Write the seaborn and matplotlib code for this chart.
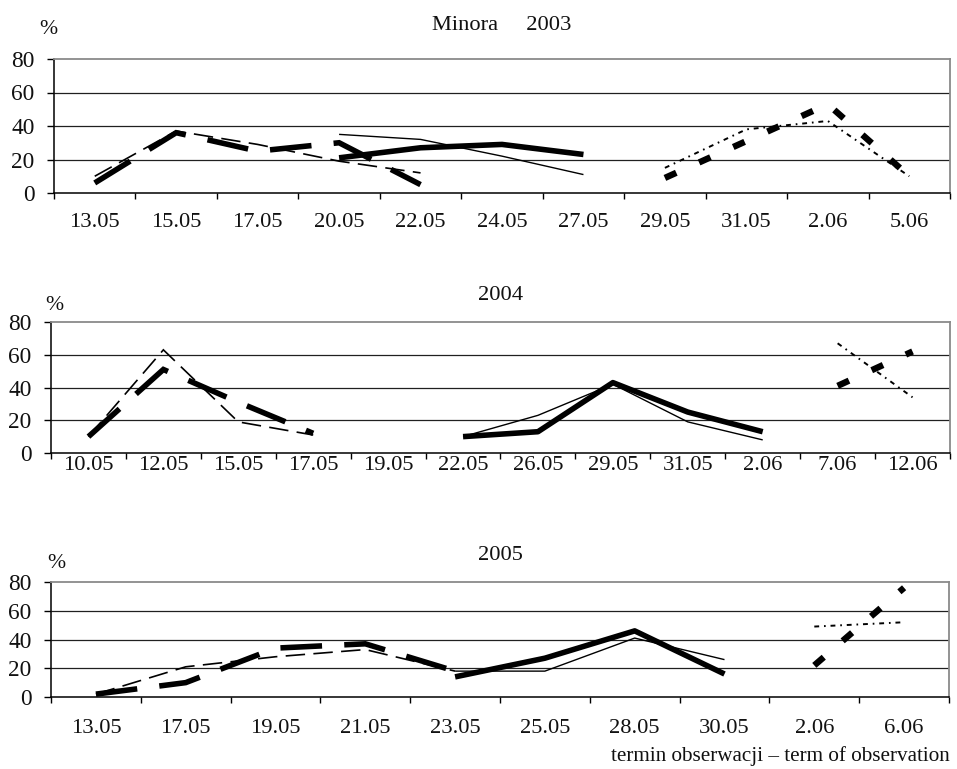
import numpy as np
import pandas as pd
import matplotlib
matplotlib.use("Agg")
import matplotlib.pyplot as plt
import seaborn as sns
from matplotlib.ticker import FixedLocator, NullFormatter, FixedFormatter

sns.set_theme(style="white")
plt.rcParams["font.family"] = ["Liberation Serif", "DejaVu Serif"]
plt.rcParams["lines.scale_dashes"] = False
plt.rcParams["lines.solid_capstyle"] = "butt"
plt.rcParams["lines.dash_capstyle"] = "butt"
plt.rcParams["lines.solid_joinstyle"] = "round"
plt.rcParams["lines.dash_joinstyle"] = "miter"

nan = np.nan

# ---- 2003 -------------------------------------------------------------
dates_2003 = ["13.05", "15.05", "17.05", "20.05", "22.05", "24.05",
              "27.05", "29.05", "31.05", "2.06", "5.06"]
heavy_dash_2003 = [6, 36, 25, 30, 5, nan, nan, nan, nan, nan, nan]
light_dash_2003 = [10, 37, 29, 19, 12, nan, nan, nan, nan, nan, nan]
heavy_solid_2003 = [nan, nan, nan, 21, 27, 29, 23, nan, nan, nan, nan]
light_solid_2003 = [nan, nan, nan, 35, 32, 22, 11, nan, nan, nan, nan]
heavy_dashdot_2003 = [nan, nan, nan, nan, nan, nan, nan, 9, 31, 53, 10]
light_dot_2003 = [nan, nan, nan, nan, nan, nan, nan, 15, 38, 43, 10]

# ---- 2004 -------------------------------------------------------------
dates_2004 = ["10.05", "12.05", "15.05", "17.05", "19.05", "22.05",
              "26.05", "29.05", "31.05", "2.06", "7.06", "12.06"]
heavy_dash_2004 = [10, 51, 31, 12, nan, nan, nan, nan, nan, nan, nan, nan]
light_dash_2004 = [10, 63, 19, 11, nan, nan, nan, nan, nan, nan, nan, nan]
heavy_solid_2004 = [nan, nan, nan, nan, nan, 10, 13, 43, 25, 13, nan, nan]
light_solid_2004 = [nan, nan, nan, nan, nan, 10, 23, 42, 19, 8, nan, nan]
heavy_dashdot_2004 = [nan, nan, nan, nan, nan, nan, nan, nan, nan, nan, 41, 62]
light_dot_2004 = [nan, nan, nan, nan, nan, nan, nan, nan, nan, nan, 67, 34]

# ---- 2005 -------------------------------------------------------------
dates_2005 = ["13.05", "17.05", "19.05", "21.05", "23.05", "25.05",
              "28.05", "30.05", "2.06", "6.06"]
heavy_dash_2005 = [2, 10, 34, 37, 18, nan, nan, nan, nan, nan]
light_dash_2005 = [2, 21, 28, 33, 18, nan, nan, nan, nan, nan]
heavy_solid_2005 = [nan, nan, nan, nan, 14, 27, 46, 16, nan, nan]
light_solid_2005 = [nan, nan, nan, nan, 18, 18, 41, 26, nan, nan]
heavy_dashdot_2005 = [nan, nan, nan, nan, nan, nan, nan, nan, 22, 76]
light_dot_2005 = [nan, nan, nan, nan, nan, nan, nan, nan, 49, 52]

y_ticks = [0, 20, 40, 60, 80]

# line appearance of each series (widths in points, dashes in points)
order = ["heavy dash", "light dash", "heavy solid", "light solid",
         "heavy dashdot", "light dot"]
widths = {"heavy dash": 4.0, "light dash": 1.2, "heavy solid": 4.0,
          "light solid": 1.0, "heavy dashdot": 4.6, "light dot": 1.4}
dash_map = {"heavy dash": (30, 16), "light dash": (14, 6),
            "heavy solid": "", "light solid": "",
            "heavy dashdot": (9, 18), "light dot": (3.5, 3.5, 1.2, 3.5)}
colors = {k: "black" for k in order}

panels = [
    dict(dates=dates_2003, title="Minora     2003",
         series=[heavy_dash_2003, light_dash_2003, heavy_solid_2003,
                 light_solid_2003, heavy_dashdot_2003, light_dot_2003],
         rect=(54, 59, 950, 193), title_y=30, pct=(48, 29), xpad=14.5),
    dict(dates=dates_2004, title="2004",
         series=[heavy_dash_2004, light_dash_2004, heavy_solid_2004,
                 light_solid_2004, heavy_dashdot_2004, light_dot_2004],
         rect=(51, 322, 950, 453), title_y=300, pct=(54, 305), xpad=2.5),
    dict(dates=dates_2005, title="2005",
         series=[heavy_dash_2005, light_dash_2005, heavy_solid_2005,
                 light_solid_2005, heavy_dashdot_2005, light_dot_2005],
         rect=(51, 582, 949, 697), title_y=560, pct=(56, 564), xpad=16.0),
]

W, H = 957, 769
fig = plt.figure(figsize=(W / 100, H / 100), dpi=100)
fs = 16.2

for p in panels:
    x0, y0, x1, y1 = p["rect"]
    ax = fig.add_axes([x0 / W, 1 - y1 / H, (x1 - x0) / W, (y1 - y0) / H])
    n = len(p["dates"])
    rows = []
    for name, vals in zip(order, p["series"]):
        for i, v in enumerate(vals):
            if not np.isnan(v):
                rows.append({"pos": i, "value": v, "series": name})
    df = pd.DataFrame(rows)
    present = [k for k in order if k in set(df["series"])]

    # gridlines under the data
    for g in (20, 40, 60):
        ax.axhline(g, color="#202020", lw=0.9, zorder=0)

    sns.lineplot(data=df, x="pos", y="value", hue="series", style="series",
                 size="series", hue_order=present, style_order=present,
                 size_order=present, palette=colors, dashes=dash_map,
                 sizes=widths, legend=False, estimator=None, sort=False,
                 ax=ax)

    ax.set_xlim(-0.5, n - 0.5)
    ax.set_ylim(0, 80)
    ax.set_xlabel("")
    ax.set_ylabel("")
    ax.set_facecolor("white")

    ax.xaxis.set_major_locator(FixedLocator(list(range(n))))
    ax.xaxis.set_major_formatter(FixedFormatter(p["dates"]))
    ax.xaxis.set_minor_locator(FixedLocator(list(np.arange(-0.5, n, 1.0))))
    ax.xaxis.set_minor_formatter(NullFormatter())
    ax.tick_params(axis="x", which="major", length=0, pad=p["xpad"],
                   labelsize=fs, colors="#111111")
    ax.tick_params(axis="x", which="minor", length=4.5, width=1.0,
                   direction="out", color="black", bottom=True)

    ax.set_yticks(y_ticks)
    ax.set_yticklabels([str(t) for t in y_ticks])
    ax.tick_params(axis="y", which="major", length=5, width=1.0,
                   direction="out", pad=9, labelsize=fs + 0.6,
                   colors="#111111", left=True)
    ax.tick_params(axis="y", color="black")

    for side in ("left", "bottom"):
        ax.spines[side].set_color("black")
        ax.spines[side].set_linewidth(1.1)
    for side in ("top", "right"):
        ax.spines[side].set_color("#8a8a8a")
        ax.spines[side].set_linewidth(1.3)
        ax.spines[side].set_visible(True)

    fig.text(x0 / W + (x1 - x0) / W / 2, 1 - p["title_y"] / H, p["title"],
             ha="center", va="baseline", fontsize=fs, color="#111111")
    fig.text(p["pct"][0] / W, 1 - p["pct"][1] / H, "%",
             ha="center", va="center", fontsize=fs - 0.5, color="#111111")

fig.text(950 / W, 1 - 761 / H, "termin obserwacji \u2013 term of observation",
         ha="right", va="baseline", fontsize=15.2, color="#111111")

fig.savefig("out.png", dpi=100, facecolor="white")
